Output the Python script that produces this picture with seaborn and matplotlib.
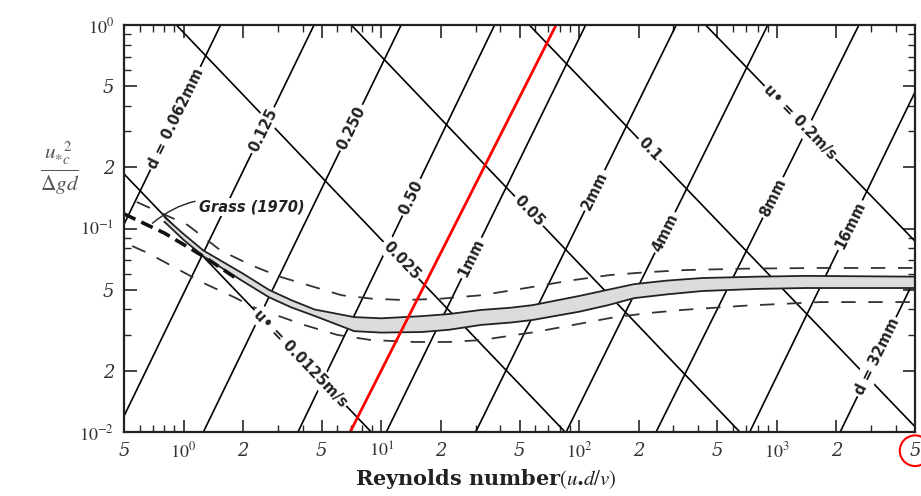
import numpy as np
import pandas as pd
import seaborn as sns
import matplotlib.pyplot as plt

# lines of constant grain size d: x where each line meets y=1e-2 and y=1
d_labels = ["d = 0.062mm", "0.125", "0.250", "0.50", "1mm", "2mm", "4mm", "8mm", "16mm", "d = 32mm"]
d_x_bot = [0.155, 0.457, 1.26, 3.79, 10.6, 30, 86, 245, 729, 2089]
d_x_top = [1.54, 4.57, 12.6, 37.4, 108, 310, 900, 2600, 7300, 21000]
d_lab_x = [0.91, 2.52, 7.05, 14.2, 28.6, 120, 272, 956, 2350, 3200]

# lines of constant shear velocity u*: x where each line meets y=1 and y=1e-2
u_labels = ["u\u2022 = 0.0125m/s", "0.025", "0.05", "0.1", "u\u2022 = 0.2m/s"]
u_x_top = [0.095, 0.92, 7.05, 56, 436]
u_x_bot = [8.9, 85, 650, 5300, 43000]
u_lab_x = [3.9, 12.6, 55.8, 226, 1310]

# red line drawn over the chart
red_x = [6.96, 76.5]
red_y = [0.01, 1.0]

# Shields band (two solid curves, shaded between)
band_x = [0.8, 1.0, 1.26, 2.0, 2.7, 3.5, 4.6, 7.3, 10, 16, 22, 32, 45, 58, 100, 140, 190, 280, 420, 800, 1400, 5000]
band_hi = [0.114, 0.094, 0.078, 0.060, 0.050, 0.0445, 0.040, 0.0367, 0.0362, 0.0371, 0.0380, 0.0398, 0.0408,
           0.042, 0.0466, 0.050, 0.0533, 0.0555, 0.0571, 0.0580, 0.0585, 0.058]
band_lo = [0.108, 0.088, 0.073, 0.055, 0.046, 0.041, 0.0372, 0.0313, 0.0308, 0.031, 0.0318, 0.0336, 0.0345,
           0.0355, 0.039, 0.042, 0.0455, 0.0475, 0.0493, 0.0505, 0.051, 0.051]

# dashed envelopes
up_x = [0.58, 1.05, 1.54, 2.2, 3.1, 6.3, 9, 13, 20, 32, 58, 90, 142, 220, 346, 700, 1660, 5000]
up_y = [0.135, 0.104, 0.078, 0.066, 0.0578, 0.047, 0.0452, 0.0445, 0.0452, 0.047, 0.0516, 0.0555, 0.059,
        0.061, 0.0625, 0.0635, 0.064, 0.064]
lo_x = [0.55, 0.66, 1.26, 1.8, 2.27, 4.06, 6, 8.9, 14.7, 22, 32, 60, 100, 152, 230, 333, 700, 1660, 5000]
lo_y = [0.082, 0.0758, 0.054, 0.046, 0.041, 0.0336, 0.030, 0.0283, 0.0277, 0.0277, 0.0283, 0.031, 0.034,
        0.0367, 0.0385, 0.0398, 0.0418, 0.0435, 0.0435]

# Grass (1970)
grass_x = [0.5, 0.8, 1.29, 1.84]
grass_y = [0.118, 0.095, 0.072, 0.057]

x_ticks = [0.5, 1, 2, 5, 10, 20, 50, 100, 200, 500, 1000, 2000, 5000]
x_ticklabels = ["5", "$10^0$", "2", "5", "$10^1$", "2", "5", "$10^2$", "2", "5", "$10^3$", "2", "5"]
y_ticks = [0.01, 0.02, 0.05, 0.1, 0.2, 0.5, 1.0]
y_ticklabels = ["$10^{-2}$", "2", "5", "$10^{-1}$", "2", "5", "$10^0$"]

sns.set_theme(style="ticks")
plt.rcParams["font.family"] = ["DejaVu Sans"]
plt.rcParams["mathtext.fontset"] = "stix"

fig = plt.figure(figsize=(9.21, 4.96), dpi=100)
ax = fig.add_axes([0.1346, 0.129, 0.859, 0.8206])

d_df = pd.DataFrame({
    "x": [v for a, b in zip(d_x_bot, d_x_top) for v in (a, b)],
    "y": [0.01, 1.0] * len(d_labels),
    "line": [n for n in d_labels for _ in range(2)],
})
u_df = pd.DataFrame({
    "x": [v for a, b in zip(u_x_top, u_x_bot) for v in (a, b)],
    "y": [1.0, 0.01] * len(u_labels),
    "line": [n for n in u_labels for _ in range(2)],
})
sns.lineplot(data=d_df, x="x", y="y", units="line", estimator=None, sort=False,
             color="black", lw=1.2, ax=ax)
sns.lineplot(data=u_df, x="x", y="y", units="line", estimator=None, sort=False,
             color="black", lw=1.2, ax=ax)

ax.fill_between(band_x, band_lo, band_hi, color="#dcdcdc", lw=0, zorder=2)
sns.lineplot(x=band_x, y=band_hi, color="#222222", lw=1.3, ax=ax)
sns.lineplot(x=band_x, y=band_lo, color="#222222", lw=1.3, ax=ax)
sns.lineplot(x=up_x, y=up_y, color="#333333", lw=1.3, ax=ax).lines[-1].set_dashes((8, 7))
sns.lineplot(x=lo_x, y=lo_y, color="#333333", lw=1.3, ax=ax).lines[-1].set_dashes((8, 7))
sns.lineplot(x=grass_x, y=grass_y, color="#111111", lw=2.6, ax=ax).lines[-1].set_dashes((3.5, 1.8))
sns.lineplot(x=red_x, y=red_y, color="red", lw=2, ax=ax)

ax.set_xscale("log")
ax.set_yscale("log")
ax.set_xlim(0.5, 5000)
ax.set_ylim(0.01, 1.0)
ax.set_xlabel("")
ax.set_ylabel("")

ax.set_xticks(x_ticks)
ax.set_xticklabels(x_ticklabels, fontsize=13, style="italic", family="DejaVu Serif", color="#333333")
ax.set_yticks(y_ticks)
ax.set_yticklabels(y_ticklabels, fontsize=13, style="italic", family="DejaVu Serif", color="#333333")
ax.tick_params(which="major", direction="in", length=9, width=1.2, top=True, right=True, pad=7)
ax.tick_params(which="minor", direction="in", length=5, width=1.0, top=True, right=True)
for s in ax.spines.values():
    s.set_linewidth(1.6)
    s.set_color("#222222")

ax.get_xticklabels()[-1].set_bbox(dict(boxstyle="circle,pad=0.35", fc="none", ec="red", lw=1.5))


def on_line(xa, ya, xb, yb, xq):
    t = (np.log10(xq) - np.log10(xa)) / (np.log10(xb) - np.log10(xa))
    yq = 10 ** (np.log10(ya) + t * (np.log10(yb) - np.log10(ya)))
    p0 = ax.transData.transform((xa, ya))
    p1 = ax.transData.transform((xb, yb))
    ang = np.degrees(np.arctan2(p1[1] - p0[1], p1[0] - p0[0]))
    if ang > 90:
        ang -= 180
    if ang < -90:
        ang += 180
    return yq, ang


box = dict(boxstyle="square,pad=0.15", fc="white", ec="none")
for name, xb, xt, xl in zip(d_labels, d_x_bot, d_x_top, d_lab_x):
    yl, ang = on_line(xb, 0.01, xt, 1.0, xl)
    ax.text(xl, yl, name, rotation=ang, ha="center", va="center", fontsize=10.5,
            fontweight="bold", color="#222222", bbox=box, rotation_mode="anchor", zorder=5)
for name, xt, xb, xl in zip(u_labels, u_x_top, u_x_bot, u_lab_x):
    yl, ang = on_line(xt, 1.0, xb, 0.01, xl)
    ax.text(xl, yl, name, rotation=ang, ha="center", va="center", fontsize=10.5,
            fontweight="bold", color="#222222", bbox=box, rotation_mode="anchor", zorder=5)

ax.annotate("Grass (1970)", xy=(0.68, 0.104), xytext=(1.2, 0.128), fontsize=10.5,
            fontweight="bold", style="italic", color="#222222", va="center", ha="left",
            bbox=dict(boxstyle="square,pad=0.1", fc="white", ec="none"),
            arrowprops=dict(arrowstyle="-", color="#222222", lw=1.0,
                            connectionstyle="arc3,rad=0.3"), zorder=5)

fig.text(0.065, 0.66, r"$\frac{u_{*c}^{\ \ 2}}{\Delta gd}$", fontsize=22, color="#555555",
         ha="center", va="center")
fig.text(0.527, 0.035, r"Reynolds number$(u_{\bullet}d/v)$", fontsize=15, fontweight="bold",
         family="DejaVu Serif", color="#222222", ha="center", va="center")

fig.savefig("out.png", dpi=100)
